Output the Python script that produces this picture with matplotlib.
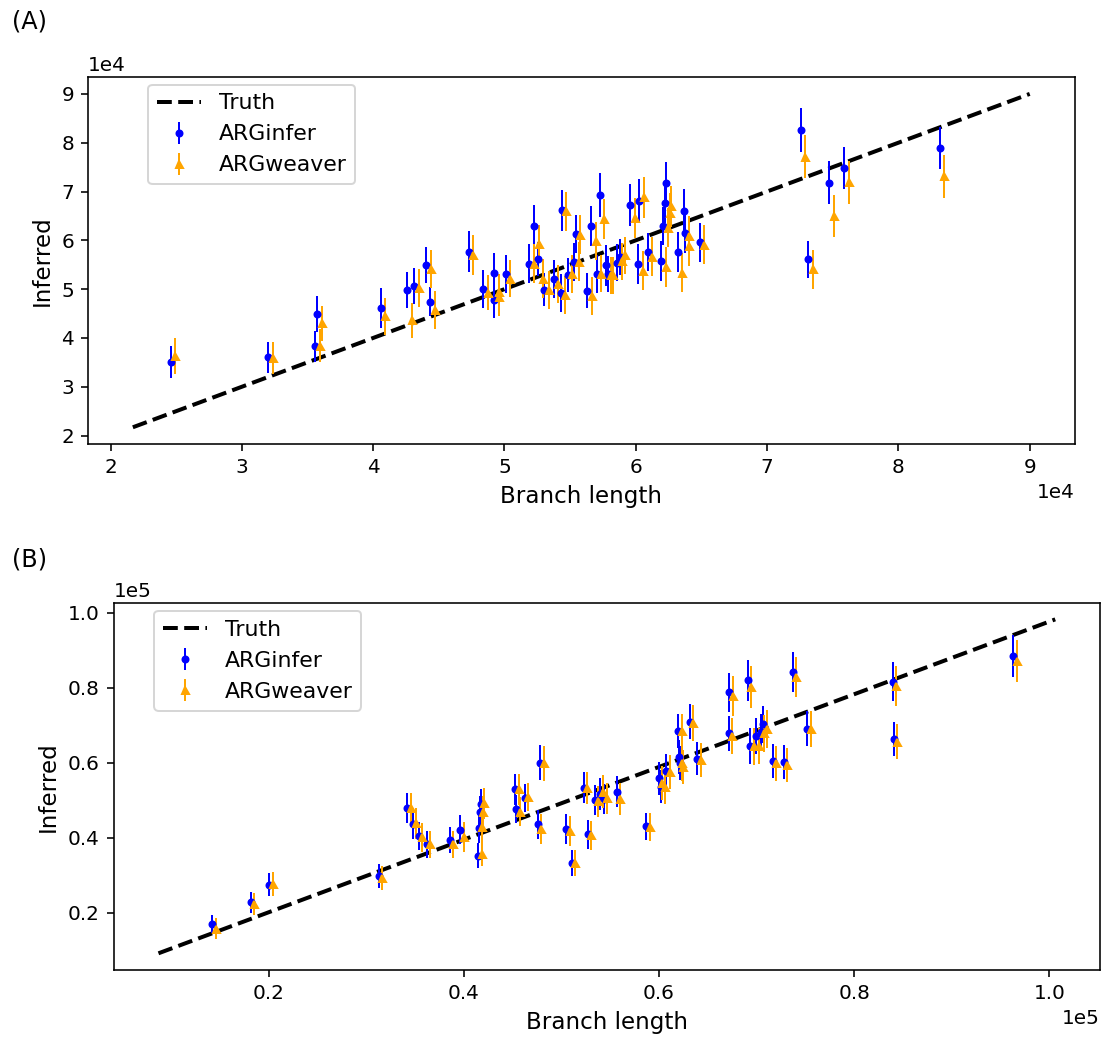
import numpy as np
import matplotlib
matplotlib.use('Agg')
import matplotlib.pyplot as plt

# panel A, values in units of 1e4
a_branch = [2.459, 3.202, 3.557, 3.575, 4.059, 4.260, 4.311, 4.402, 4.435, 4.729,
            4.836, 4.922, 4.922, 5.008, 5.188, 5.226, 5.259, 5.302, 5.376, 5.427,
            5.435, 5.483, 5.531, 5.541, 5.632, 5.661, 5.702, 5.725, 5.773, 5.790,
            5.860, 5.883, 5.957, 6.019, 6.027, 6.090, 6.193, 6.210, 6.223, 6.231,
            6.318, 6.369, 6.374, 6.487, 7.257, 7.315, 7.471, 7.589, 8.313]
a_arginfer = [3.50, 3.60, 3.83, 4.49, 4.61, 4.99, 5.06, 5.50, 4.74, 5.77,
              5.01, 5.33, 4.78, 5.31, 5.52, 6.30, 5.61, 4.99, 5.21, 4.92,
              6.62, 5.29, 5.56, 6.13, 4.97, 6.29, 5.31, 6.92, 5.49, 5.31,
              5.54, 5.66, 6.72, 5.51, 6.81, 5.77, 5.57, 6.29, 6.77, 7.17,
              5.76, 6.61, 6.16, 5.96, 8.26, 5.61, 7.18, 7.48, 7.89]
a_arginfer_err = [0.33, 0.32, 0.32, 0.37, 0.41, 0.37, 0.37, 0.37, 0.30, 0.42,
                  0.39, 0.41, 0.38, 0.38, 0.40, 0.42, 0.35, 0.34, 0.39, 0.39,
                  0.42, 0.35, 0.39, 0.39, 0.36, 0.41, 0.38, 0.45, 0.42, 0.37,
                  0.38, 0.36, 0.43, 0.41, 0.45, 0.39, 0.41, 0.39, 0.42, 0.43,
                  0.41, 0.44, 0.41, 0.40, 0.46, 0.38, 0.44, 0.43, 0.43]
a_argweaver = [3.63, 3.59, 3.84, 4.30, 4.44, 4.36, 5.03, 5.42, 4.57, 5.69,
               4.93, 4.95, 4.83, 5.21, 5.52, 5.93, 5.21, 4.99, 5.11, 4.88,
               6.60, 5.31, 5.56, 6.11, 4.86, 5.98, 5.32, 6.44, 5.28, 5.28,
               5.57, 5.69, 6.46, 5.38, 6.88, 5.66, 5.46, 6.26, 6.56, 6.70,
               5.34, 6.08, 5.88, 5.91, 7.71, 5.41, 6.49, 7.19, 7.31]
a_argweaver_err = [0.36, 0.33, 0.34, 0.36, 0.37, 0.36, 0.39, 0.39, 0.39, 0.41,
                   0.36, 0.37, 0.37, 0.38, 0.40, 0.38, 0.40, 0.39, 0.39, 0.39,
                   0.40, 0.39, 0.40, 0.40, 0.39, 0.39, 0.37, 0.41, 0.38, 0.38,
                   0.38, 0.38, 0.41, 0.40, 0.42, 0.40, 0.41, 0.40, 0.41, 0.42,
                   0.40, 0.41, 0.40, 0.40, 0.44, 0.40, 0.43, 0.44, 0.44]
a_truth_x = [2.17, 9.00]
a_truth_y = [2.17, 9.00]

# panel B, values in units of 1e5
b_branch = [0.1423, 0.1819, 0.2004, 0.3128, 0.3422, 0.3477, 0.3539, 0.3617, 0.3857, 0.3963,
            0.4148, 0.4154, 0.4165, 0.4175, 0.4525, 0.4539, 0.4624, 0.4785, 0.4755, 0.5049,
            0.5107, 0.5227, 0.5272, 0.5340, 0.5394, 0.5435, 0.5569, 0.5871, 0.5997, 0.6021,
            0.6076, 0.6199, 0.6203, 0.6213, 0.6315, 0.6391, 0.6719, 0.6712, 0.6911, 0.6935,
            0.6990, 0.7045, 0.7069, 0.7165, 0.7278, 0.7370, 0.7520, 0.8394, 0.8408, 0.9630]
b_arginfer = [0.170, 0.228, 0.275, 0.298, 0.478, 0.437, 0.405, 0.382, 0.394, 0.421,
              0.352, 0.425, 0.469, 0.489, 0.529, 0.477, 0.505, 0.600, 0.436, 0.423,
              0.333, 0.533, 0.409, 0.501, 0.517, 0.502, 0.523, 0.430, 0.558, 0.536,
              0.578, 0.684, 0.616, 0.600, 0.709, 0.611, 0.788, 0.678, 0.820, 0.644,
              0.671, 0.683, 0.702, 0.605, 0.602, 0.841, 0.691, 0.816, 0.663, 0.884]
b_arginfer_err = [0.025, 0.028, 0.030, 0.031, 0.040, 0.041, 0.038, 0.035, 0.035, 0.039,
                  0.033, 0.040, 0.042, 0.040, 0.041, 0.038, 0.037, 0.046, 0.039, 0.040,
                  0.034, 0.041, 0.038, 0.040, 0.042, 0.040, 0.042, 0.036, 0.044, 0.044,
                  0.044, 0.046, 0.045, 0.045, 0.047, 0.045, 0.052, 0.047, 0.055, 0.048,
                  0.047, 0.048, 0.050, 0.045, 0.045, 0.053, 0.047, 0.052, 0.046, 0.055]
b_argweaver = [0.158, 0.223, 0.277, 0.294, 0.478, 0.438, 0.401, 0.383, 0.382, 0.403,
               0.358, 0.429, 0.469, 0.492, 0.529, 0.469, 0.508, 0.598, 0.422, 0.418,
               0.332, 0.533, 0.406, 0.497, 0.523, 0.505, 0.503, 0.428, 0.545, 0.534,
               0.576, 0.684, 0.598, 0.589, 0.705, 0.607, 0.778, 0.672, 0.801, 0.644,
               0.645, 0.678, 0.689, 0.598, 0.594, 0.828, 0.689, 0.805, 0.656, 0.870]
b_argweaver_err = [0.027, 0.029, 0.031, 0.032, 0.041, 0.042, 0.039, 0.036, 0.036, 0.040,
                   0.034, 0.041, 0.043, 0.041, 0.042, 0.039, 0.038, 0.047, 0.040, 0.041,
                   0.035, 0.042, 0.039, 0.041, 0.043, 0.041, 0.043, 0.037, 0.045, 0.045,
                   0.045, 0.047, 0.046, 0.046, 0.048, 0.046, 0.053, 0.048, 0.056, 0.049,
                   0.048, 0.049, 0.051, 0.046, 0.046, 0.054, 0.048, 0.053, 0.047, 0.056]
b_truth_x = [0.087, 1.006]
b_truth_y = [0.092, 0.982]

WEAVER_SHIFT = 350   # ARGweaver points are nudged right so the bars don't overlap


def draw_panel(ax, scale, x, y_inf, e_inf, y_wv, e_wv, tx, ty, legend_anchor):
    x = np.array(x) * scale
    ax.plot(np.array(tx) * scale, np.array(ty) * scale, 'k--', lw=2, label='Truth')
    ax.errorbar(x, np.array(y_inf) * scale, yerr=np.array(e_inf) * scale,
                fmt='.', color='blue', elinewidth=1, label='ARGinfer')
    ax.errorbar(x + WEAVER_SHIFT, np.array(y_wv) * scale, yerr=np.array(e_wv) * scale,
                fmt='^', ms=3.5, color='orange', elinewidth=1, label='ARGweaver')
    ax.ticklabel_format(axis='both', style='sci', scilimits=(0, 0))
    ax.set_xlabel('Branch length', fontsize=11.5)
    ax.set_ylabel('Inferred', fontsize=11.5)
    ax.legend(loc='upper left', bbox_to_anchor=legend_anchor, fontsize=11)


fig = plt.figure(figsize=(1114 / 144, 1038 / 144), dpi=144)
ax_a = fig.add_axes([0.079, 0.5723, 0.8856, 0.3533])
ax_b = fig.add_axes([0.102, 0.0655, 0.8855, 0.3539])

draw_panel(ax_a, 1e4, a_branch, a_arginfer, a_arginfer_err, a_argweaver, a_argweaver_err,
           a_truth_x, a_truth_y, (0.05, 1.01))
draw_panel(ax_b, 1e5, b_branch, b_arginfer, b_arginfer_err, b_argweaver, b_argweaver_err,
           b_truth_x, b_truth_y, (0.03, 1.007))

fig.text(0.011, 1 - 22 / 1038, '(A)', fontsize=12, va='center')
fig.text(0.011, 1 - 560 / 1038, '(B)', fontsize=12, va='center')

plt.savefig('out.png', dpi=144)
